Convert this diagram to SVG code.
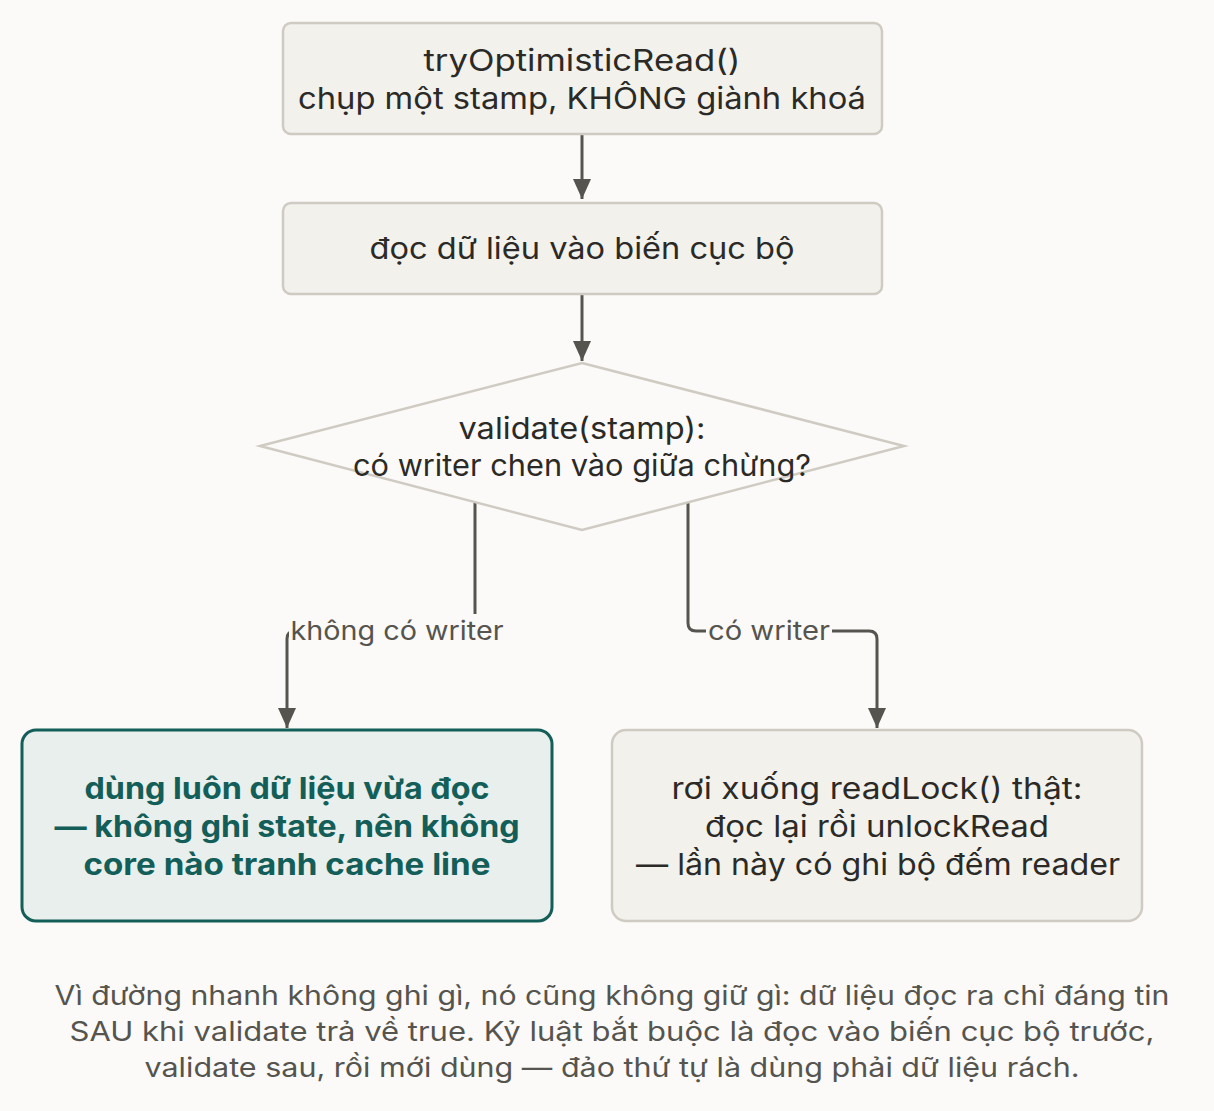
<svg xmlns="http://www.w3.org/2000/svg" width="1214" height="1111" viewBox="0 0 1214 1111">
<style>
text{font-family:Inter,"Noto Sans",sans-serif;font-size:30px;fill:#2b2a27;text-anchor:middle}
.box{fill:#f2f1ec;stroke:#cfcbc3;stroke-width:2.5}
.hl{fill:#e8efec;stroke:#135e58;stroke-width:3}
.hlt{fill:#135e58;font-weight:bold}
.c{fill:none;stroke:#55544e;stroke-width:3}
.lbl{font-size:26px;fill:#55544e}
.note{font-size:26.5px;fill:#55544e}
</style>
<defs>
<marker id="ah" viewBox="0 0 20 18" refX="20" refY="9" markerWidth="20" markerHeight="18" orient="auto" markerUnits="userSpaceOnUse"><path d="M0,0L20,9L0,18z" fill="#55544e"/></marker></defs>
<rect width="1214" height="1111" fill="#fbfaf8"/>
<g id="connectors">
<path class="c" d="M582 135V199" marker-end="url(#ah)"/>
<path class="c" d="M582 295V361" marker-end="url(#ah)"/>
<path class="c" d="M475 503V631H295Q287 631 287 639V728" marker-end="url(#ah)"/>
<path class="c" d="M688 503V623Q688 631 696 631H869Q877 631 877 639V728" marker-end="url(#ah)"/>
<rect x="289" y="614" width="216" height="34" fill="#fbfaf8"/>
<rect x="706" y="614" width="126" height="34" fill="#fbfaf8"/>
<text class="lbl" x="397" y="640" textLength="213" lengthAdjust="spacingAndGlyphs">không có writer</text>
<text class="lbl" x="769" y="640" textLength="122" lengthAdjust="spacingAndGlyphs">có writer</text>
</g>
<g id="n1"><rect class="box" x="283" y="23" width="599" height="111" rx="8"/>
<text x="582" y="71" textLength="317" lengthAdjust="spacingAndGlyphs">tryOptimisticRead()</text><text x="582" y="109" textLength="568" lengthAdjust="spacingAndGlyphs">chụp một stamp, KHÔNG giành khoá</text></g>
<g id="n2"><rect class="box" x="283" y="203" width="599" height="91" rx="8"/>
<text x="582" y="259" textLength="425" lengthAdjust="spacingAndGlyphs">đọc dữ liệu vào biến cục bộ</text></g>
<g id="n3"><polygon points="582,363 904,446 582,530 260,446" fill="#fbfaf8" stroke="#cfcbc3" stroke-width="2.5"/>
<text x="582" y="439" textLength="247" lengthAdjust="spacingAndGlyphs">validate(stamp):</text><text x="582" y="476" textLength="458" lengthAdjust="spacingAndGlyphs">có writer chen vào giữa chừng?</text></g>
<g id="n4"><rect class="hl" x="22" y="730" width="530" height="191" rx="14"/>
<text class="hlt" x="287" y="799" textLength="405" lengthAdjust="spacingAndGlyphs">dùng luôn dữ liệu vừa đọc</text><text class="hlt" x="287" y="837" textLength="465" lengthAdjust="spacingAndGlyphs">— không ghi state, nên không</text><text class="hlt" x="287" y="875" textLength="407" lengthAdjust="spacingAndGlyphs">core nào tranh cache line</text></g>
<g id="n5"><rect class="box" x="612" y="730" width="530" height="191" rx="14"/>
<text x="877" y="799" textLength="411" lengthAdjust="spacingAndGlyphs">rơi xuống readLock() thật:</text><text x="877" y="837" textLength="344" lengthAdjust="spacingAndGlyphs">đọc lại rồi unlockRead</text><text x="878" y="875" textLength="484" lengthAdjust="spacingAndGlyphs">— lần này có ghi bộ đếm reader</text></g>
<g id="note">
<text class="note" x="612" y="1005" textLength="1115" lengthAdjust="spacingAndGlyphs">Vì đường nhanh không ghi gì, nó cũng không giữ gì: dữ liệu đọc ra chỉ đáng tin</text>
<text class="note" x="612" y="1041" textLength="1085" lengthAdjust="spacingAndGlyphs">SAU khi validate trả về true. Kỷ luật bắt buộc là đọc vào biến cục bộ trước,</text>
<text class="note" x="612" y="1077" textLength="935" lengthAdjust="spacingAndGlyphs">validate sau, rồi mới dùng — đảo thứ tự là dùng phải dữ liệu rách.</text>
</g>
</svg>
